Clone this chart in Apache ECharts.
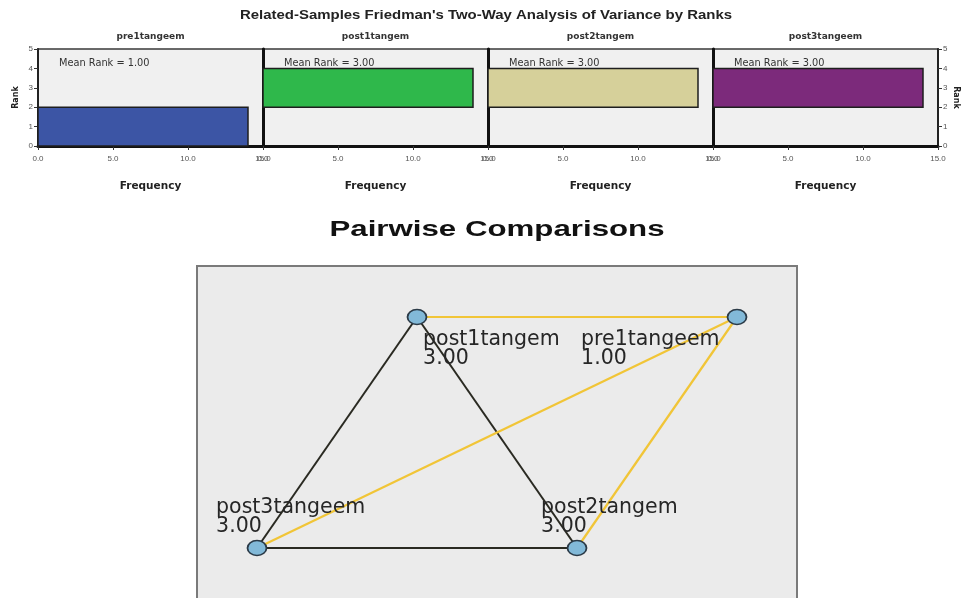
<!DOCTYPE html>
<html>
<head>
<meta charset="utf-8">
<script src="https://cdn.jsdelivr.net/npm/echarts@6/dist/echarts.min.js"></script>
<style>
  html, body { margin: 0; padding: 0; background: #ffffff; }
  #chart { width: 968px; height: 598px; }
</style>
</head>
<body>
<div id="chart"></div>
<script>
// Friedman test: rank histograms per variable
const variables = ['pre1tangeem', 'post1tangem', 'post2tangem', 'post3tangeem'];
const meanRanks = [1.00, 3.00, 3.00, 3.00];
const rankBinStart = [0, 2, 2, 2];
const rankBinEnd = [2, 4, 4, 4];
const frequencies = [14, 14, 14, 14];
const frequencyTicks = [0, 5, 10, 15];
const rankTicks = [0, 1, 2, 3, 4, 5];

// Pairwise comparisons network
const nodeNames = ['post3tangeem', 'post1tangem', 'post2tangem', 'pre1tangeem'];
const nodeMeanRanks = [3.00, 3.00, 3.00, 1.00];
const nodeLayoutX = [0, 1, 2, 3];
const nodeLayoutY = [0, 1, 0, 1];
const significantPairs = [
  ['post1tangem', 'pre1tangeem'],
  ['post3tangeem', 'pre1tangeem'],
  ['post2tangem', 'pre1tangeem']
];
const nonSignificantPairs = [
  ['post1tangem', 'post3tangeem'],
  ['post1tangem', 'post2tangem'],
  ['post3tangeem', 'post2tangem']
];

// ---- layout & styling ----
const barColors = ['#3c55a5', '#2fb84b', '#d6d09a', '#7c2a7b'];
const PANEL_LEFT = 38, PANEL_W = 225, PANEL_TOP = 49, PANEL_H = 97;
const SMALL_FONT = 'DejaVu Sans';
const ARIAL = '"Liberation Sans", Arial, sans-serif';
// label anchor per node (relative to the symbol's box)
const nodeLabelPos = {
  post3tangeem: [-30.5, -42],
  post1tangem:  [16.5, 21],
  post2tangem:  [-25.5, -42],
  pre1tangeem:  [-145.5, 21]
};

const chart = echarts.init(document.getElementById('chart'), null, { renderer: 'canvas' });

const grids = [], xAxes = [], yAxes = [], series = [], graphics = [];

variables.forEach((v, i) => {
  const left = PANEL_LEFT + i * PANEL_W;
  grids.push({
    left: left, top: PANEL_TOP, width: PANEL_W, height: PANEL_H,
    show: true, backgroundColor: '#f0f0f0', borderColor: '#3a3a3a', borderWidth: 1.5
  });
  xAxes.push({
    gridIndex: i, type: 'value',
    min: frequencyTicks[0], max: frequencyTicks[frequencyTicks.length - 1],
    interval: frequencyTicks[1] - frequencyTicks[0],
    name: 'Frequency', nameLocation: 'middle', nameGap: 35,
    nameTextStyle: { fontFamily: SMALL_FONT, fontWeight: 'bold', fontSize: 10.5, color: '#222' },
    axisLine: { show: true, lineStyle: { color: '#111', width: 3 } },
    axisTick: { show: true, length: 4, lineStyle: { color: '#333', width: 1 } },
    axisLabel: {
      show: true, showMinLabel: true, showMaxLabel: true,
      fontFamily: ARIAL, fontSize: 8, color: '#555', margin: 9,
      formatter: (val) => val.toFixed(1)
    },
    splitLine: { show: false }
  });
  const yBase = {
    gridIndex: i, type: 'value',
    min: rankTicks[0], max: rankTicks[rankTicks.length - 1], interval: 1,
    splitLine: { show: false }
  };
  if (i === 0) {
    yAxes.push(Object.assign({}, yBase, {
      position: 'left',
      name: 'Rank', nameLocation: 'middle', nameGap: 18, nameRotate: 90,
      nameTextStyle: { fontFamily: SMALL_FONT, fontWeight: 'bold', fontSize: 8, color: '#222' },
      axisLine: { show: true, lineStyle: { color: '#222', width: 2 } },
      axisTick: { show: true, length: 4, lineStyle: { color: '#333' } },
      axisLabel: { show: true, fontFamily: ARIAL, fontSize: 8, color: '#555', margin: 5 }
    }));
  } else {
    yAxes.push(Object.assign({}, yBase, {
      position: 'left',
      axisLine: { show: true, lineStyle: { color: '#111', width: 3 } },
      axisTick: { show: false }, axisLabel: { show: false }
    }));
  }
  // Histogram bar spanning the rank bin, length = frequency
  series.push({
    type: 'custom', xAxisIndex: i, yAxisIndex: i,
    data: [[rankBinStart[i], rankBinEnd[i], frequencies[i]]],
    encode: { x: 2, y: [0, 1] },
    renderItem: (params, api) => {
      const p0 = api.coord([0, api.value(0)]);
      const p1 = api.coord([api.value(2), api.value(1)]);
      return {
        type: 'rect',
        shape: { x: p0[0], y: p1[1], width: p1[0] - p0[0], height: p0[1] - p1[1] },
        style: { fill: barColors[i], stroke: '#1e1e1e', lineWidth: 1.5 }
      };
    },
    z: 3
  });
  graphics.push({
    type: 'text', x: left + PANEL_W / 2, y: 37, z: 10,
    style: { text: v, fontFamily: SMALL_FONT, fontWeight: 'bold', fontSize: 9,
             fill: '#333', textAlign: 'center', textVerticalAlign: 'middle' }
  });
  graphics.push({
    type: 'text', x: left + 21, y: 63, z: 10,
    style: { text: 'Mean Rank = ' + meanRanks[i].toFixed(2), fontFamily: SMALL_FONT, fontSize: 9.8,
             fill: '#333', textAlign: 'left', textVerticalAlign: 'middle' }
  });
});

// Right-hand rank axis on the last panel
yAxes.push({
  gridIndex: 3, type: 'value', position: 'right',
  min: rankTicks[0], max: rankTicks[rankTicks.length - 1], interval: 1,
  name: 'Rank', nameLocation: 'middle', nameGap: 14, nameRotate: -90,
  nameTextStyle: { fontFamily: SMALL_FONT, fontWeight: 'bold', fontSize: 8, color: '#222' },
  axisLine: { show: true, lineStyle: { color: '#222', width: 2 } },
  axisTick: { show: true, length: 4, lineStyle: { color: '#333' } },
  axisLabel: { show: true, fontFamily: ARIAL, fontSize: 8, color: '#555', margin: 5 },
  splitLine: { show: false }
});

// Network plotting area
const netGrid = grids.length;
grids.push({ left: 257, top: 317, width: 480, height: 231, show: false });
const netX = xAxes.length;
xAxes.push({ gridIndex: netGrid, type: 'value', min: 0, max: 3, show: false });
const netY = yAxes.length;
yAxes.push({ gridIndex: netGrid, type: 'value', min: 0, max: 1, show: false });

const yellow = '#f1c537', dark = '#2a2a22';
const links = nonSignificantPairs.map(p => ({ source: p[0], target: p[1], lineStyle: { color: dark, width: 2 } }))
  .concat(significantPairs.map(p => ({ source: p[0], target: p[1], lineStyle: { color: yellow, width: 2.2 } })));

series.push({
  type: 'graph', coordinateSystem: 'cartesian2d',
  xAxisIndex: netX, yAxisIndex: netY,
  layout: 'none', roam: false, z: 5,
  symbol: 'circle', symbolSize: [19, 15],
  itemStyle: { color: '#82b9d8', borderColor: '#2b3a47', borderWidth: 1.6 },
  data: nodeNames.map((n, k) => ({
    name: n, value: [nodeLayoutX[k], nodeLayoutY[k]],
    label: {
      show: true, position: nodeLabelPos[n], align: 'left', verticalAlign: 'top',
      formatter: n + '\n' + nodeMeanRanks[k].toFixed(2),
      fontFamily: 'DejaVu Sans', fontSize: 20.5, lineHeight: 19, color: '#262626'
    }
  })),
  links: links,
  lineStyle: { opacity: 1, curveness: 0 },
  emphasis: { disabled: true }
});

// Network frame
graphics.push({
  type: 'rect', z: -1, silent: true,
  shape: { x: 197, y: 266, width: 600, height: 345 },
  style: { fill: '#ebebeb', stroke: '#7a7a7a', lineWidth: 2 }
});
// Titles
graphics.push({
  type: 'text', x: 486, y: 15, z: 10, scaleX: 1.15,
  style: { text: "Related-Samples Friedman's Two-Way Analysis of Variance by Ranks",
           fontFamily: ARIAL, fontWeight: 'bold', fontSize: 13, fill: '#222',
           textAlign: 'center', textVerticalAlign: 'middle' }
});
graphics.push({
  type: 'text', x: 497, y: 230, z: 10, scaleX: 1.42,
  style: { text: 'Pairwise Comparisons', fontFamily: ARIAL, fontWeight: 'bold', fontSize: 22,
           fill: '#111', textAlign: 'center', textVerticalAlign: 'middle' }
});

chart.setOption({
  backgroundColor: '#ffffff',
  animation: false,
  grid: grids,
  xAxis: xAxes,
  yAxis: yAxes,
  series: series,
  graphic: { elements: graphics }
});
</script>
</body>
</html>
